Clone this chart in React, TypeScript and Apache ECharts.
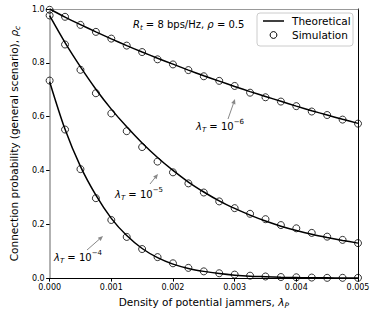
import React, { useEffect, useRef } from 'react';
import * as echarts from 'echarts';

const xValues = [0, 0.00025, 0.0005, 0.00075, 0.001, 0.00125, 0.0015, 0.00175, 0.002, 0.00225, 0.0025, 0.00275, 0.003, 0.00325, 0.0035, 0.00375, 0.004, 0.00425, 0.0045, 0.00475, 0.005];

const theoryT6 = [1.0, 0.970, 0.942, 0.915, 0.889, 0.864, 0.840, 0.817, 0.795, 0.773, 0.752, 0.732, 0.712, 0.693, 0.675, 0.657, 0.639, 0.622, 0.606, 0.590, 0.575];
const simT6 = [0.997, 0.971, 0.941, 0.915, 0.890, 0.864, 0.840, 0.813, 0.794, 0.773, 0.750, 0.733, 0.714, 0.689, 0.672, 0.656, 0.639, 0.619, 0.606, 0.589, 0.574];

const theoryT5 = [0.975, 0.875, 0.785, 0.702, 0.628, 0.562, 0.502, 0.448, 0.400, 0.357, 0.320, 0.287, 0.259, 0.234, 0.212, 0.193, 0.177, 0.163, 0.151, 0.140, 0.130];
const simT5 = [0.976, 0.868, 0.774, 0.687, 0.612, 0.546, 0.487, 0.433, 0.393, 0.352, 0.318, 0.285, 0.260, 0.239, 0.219, 0.197, 0.185, 0.168, 0.154, 0.142, 0.130];

const theoryT4 = [0.730, 0.553, 0.415, 0.308, 0.222, 0.158, 0.110, 0.076, 0.052, 0.036, 0.025, 0.017, 0.011, 0.007, 0.005, 0.003, 0.002, 0.001, 0.001, 0.0005, 0.0003];
const simT4 = [0.734, 0.552, 0.405, 0.297, 0.216, 0.153, 0.108, 0.078, 0.055, 0.038, 0.025, 0.018, 0.013, 0.009, 0.006, 0.004, 0.003, 0.002, 0.001, 0.001, 0.001];

const xTickInterval = 0.001;
const yTickInterval = 0.2;

const FONT = 'DejaVu Sans';

function makeRich(size: number, small: number) {
  return {
    n: { fontSize: size, fontFamily: FONT, color: '#000', lineHeight: 15 },
    i: { fontSize: size, fontFamily: FONT, fontStyle: 'italic', color: '#000', lineHeight: 15 },
    sub: { fontSize: small, fontFamily: FONT, fontStyle: 'italic', color: '#000', lineHeight: 8, verticalAlign: 'bottom' },
    sup: { fontSize: small, fontFamily: FONT, color: '#000', lineHeight: 8, verticalAlign: 'top' },
  };
}

const axisRich = makeRich(10.5, 7.5);
const annotRich = makeRich(10, 7);

function arrow(x1: number, y1: number, x2: number, y2: number) {
  const dx = x2 - x1;
  const dy = y2 - y1;
  const len = Math.sqrt(dx * dx + dy * dy);
  const ux = dx / len;
  const uy = dy / len;
  const hl = 5;
  const hw = 2.2;
  const bx = x2 - ux * hl;
  const by = y2 - uy * hl;
  return [
    {
      type: 'line',
      shape: { x1, y1, x2: bx, y2: by },
      style: { stroke: '#888', lineWidth: 1 },
      silent: true,
    },
    {
      type: 'polygon',
      shape: { points: [[x2, y2], [bx - uy * hw, by + ux * hw], [bx + uy * hw, by - ux * hw]] },
      style: { fill: '#888' },
      silent: true,
    },
  ];
}

function lambdaLabel(x: number, y: number, exp: string) {
  return {
    type: 'text',
    x,
    y,
    style: {
      text: `{i|λ}{sub|T}{n| = 10}{sup|−${exp}}`,
      rich: annotRich,
      verticalAlign: 'middle',
      align: 'left',
    },
    silent: true,
  };
}

export default function App() {
  const ref = useRef<HTMLDivElement>(null);

  useEffect(() => {
    const chart = echarts.init(ref.current!, null, { renderer: 'svg' });

    const pairs = (ys: number[]) => xValues.map((x, i) => [x, ys[i]]);

    const lineSeries = (name: string, ys: number[]) => ({
      type: 'line',
      name,
      data: pairs(ys),
      smooth: 0.3,
      showSymbol: false,
      lineStyle: { color: '#000', width: 1.5 },
      clip: true,
      z: 3,
    });
    const simSeries = (name: string, ys: number[]) => ({
      type: 'scatter',
      name,
      data: pairs(ys),
      symbol: 'circle',
      symbolSize: 7,
      itemStyle: { color: 'rgba(0,0,0,0)', borderColor: '#000', borderWidth: 1 },
      clip: true,
      z: 4,
    });

    const option = {
      animation: false,
      backgroundColor: '#fff',
      grid: { left: 35, top: 9, right: 16, bottom: 31, containLabel: false },
      xAxis: [
        {
          type: 'value',
          min: 0,
          max: 0.005,
          interval: xTickInterval,
          position: 'bottom',
          axisLine: { show: true, onZero: false, lineStyle: { color: '#000', width: 1 } },
          axisTick: { show: true, length: 3.5, lineStyle: { color: '#000' } },
          axisLabel: {
            fontSize: 8,
            fontFamily: FONT,
            color: '#000',
            margin: 5,
            formatter: (v: number) => v.toFixed(3),
          },
          splitLine: { show: false },
          name: '{n|Density of potential jammers, }{i|λ}{sub|P}',
          nameLocation: 'middle',
          nameGap: 14,
          nameTextStyle: { rich: axisRich },
        },
        {
          type: 'value',
          min: 0,
          max: 0.005,
          position: 'top',
          axisLine: { show: true, onZero: false, lineStyle: { color: '#999', width: 1 } },
          axisTick: { show: false },
          axisLabel: { show: false },
          splitLine: { show: false },
        },
      ],
      yAxis: [
        {
          type: 'value',
          min: 0,
          max: 1,
          interval: yTickInterval,
          position: 'left',
          axisLine: { show: true, onZero: false, lineStyle: { color: '#999', width: 1.5 } },
          axisTick: { show: true, length: 3.5, lineStyle: { color: '#000' } },
          axisLabel: {
            fontSize: 8,
            fontFamily: FONT,
            color: '#000',
            margin: 5,
            formatter: (v: number) => v.toFixed(1),
          },
          splitLine: { show: false },
          name: '{n|Connection probability (general scenario), }{i|ρ}{sub|c}',
          nameLocation: 'middle',
          nameGap: 19,
          nameTextStyle: { rich: axisRich },
        },
        {
          type: 'value',
          min: 0,
          max: 1,
          position: 'right',
          axisLine: { show: true, onZero: false, lineStyle: { color: '#000', width: 1 } },
          axisTick: { show: false },
          axisLabel: { show: false },
          splitLine: { show: false },
        },
      ],
      series: [
        lineSeries('Theoretical λT=1e-6', theoryT6),
        lineSeries('Theoretical λT=1e-5', theoryT5),
        lineSeries('Theoretical λT=1e-4', theoryT4),
        simSeries('Simulation λT=1e-6', simT6),
        simSeries('Simulation λT=1e-5', simT5),
        simSeries('Simulation λT=1e-4', simT4),
      ],
      graphic: [
        {
          type: 'text',
          x: 133,
          y: 24,
          style: {
            text: '{i|R}{sub|t}{n| = 8 bps/Hz, }{i|ρ}{n| = 0.5}',
            rich: annotRich,
            verticalAlign: 'middle',
            align: 'left',
          },
          silent: true,
        },
        {
          type: 'rect',
          shape: { x: 257, y: 13, width: 96, height: 33, r: 3 },
          style: { fill: 'rgba(255,255,255,0.85)', stroke: '#ccc', lineWidth: 1 },
          z: 10,
          silent: true,
        },
        {
          type: 'line',
          shape: { x1: 263, y1: 21, x2: 284, y2: 21 },
          style: { stroke: '#000', lineWidth: 1.5 },
          z: 11,
          silent: true,
        },
        {
          type: 'circle',
          shape: { cx: 273.5, cy: 35, r: 3.4 },
          style: { fill: 'none', stroke: '#000', lineWidth: 1 },
          z: 11,
          silent: true,
        },
        {
          type: 'text',
          x: 292,
          y: 21,
          style: { text: 'Theoretical', fontSize: 10.5, fontFamily: FONT, fill: '#000', verticalAlign: 'middle' },
          z: 11,
          silent: true,
        },
        {
          type: 'text',
          x: 292,
          y: 35,
          style: { text: 'Simulation', fontSize: 10.5, fontFamily: FONT, fill: '#000', verticalAlign: 'middle' },
          z: 11,
          silent: true,
        },
        lambdaLabel(196, 126, '6'),
        ...arrow(228, 119, 235, 99),
        lambdaLabel(115, 194, '5'),
        ...arrow(150, 184, 158, 174),
        lambdaLabel(54, 257, '4'),
        ...arrow(87, 250, 103, 236),
      ],
    };

    chart.setOption(option as any);
    return () => chart.dispose();
  }, []);

  return (
    <div
      ref={ref}
      style={{ position: 'fixed', left: 0, top: 0, width: 374, height: 314, background: '#fff' }}
    />
  );
}
